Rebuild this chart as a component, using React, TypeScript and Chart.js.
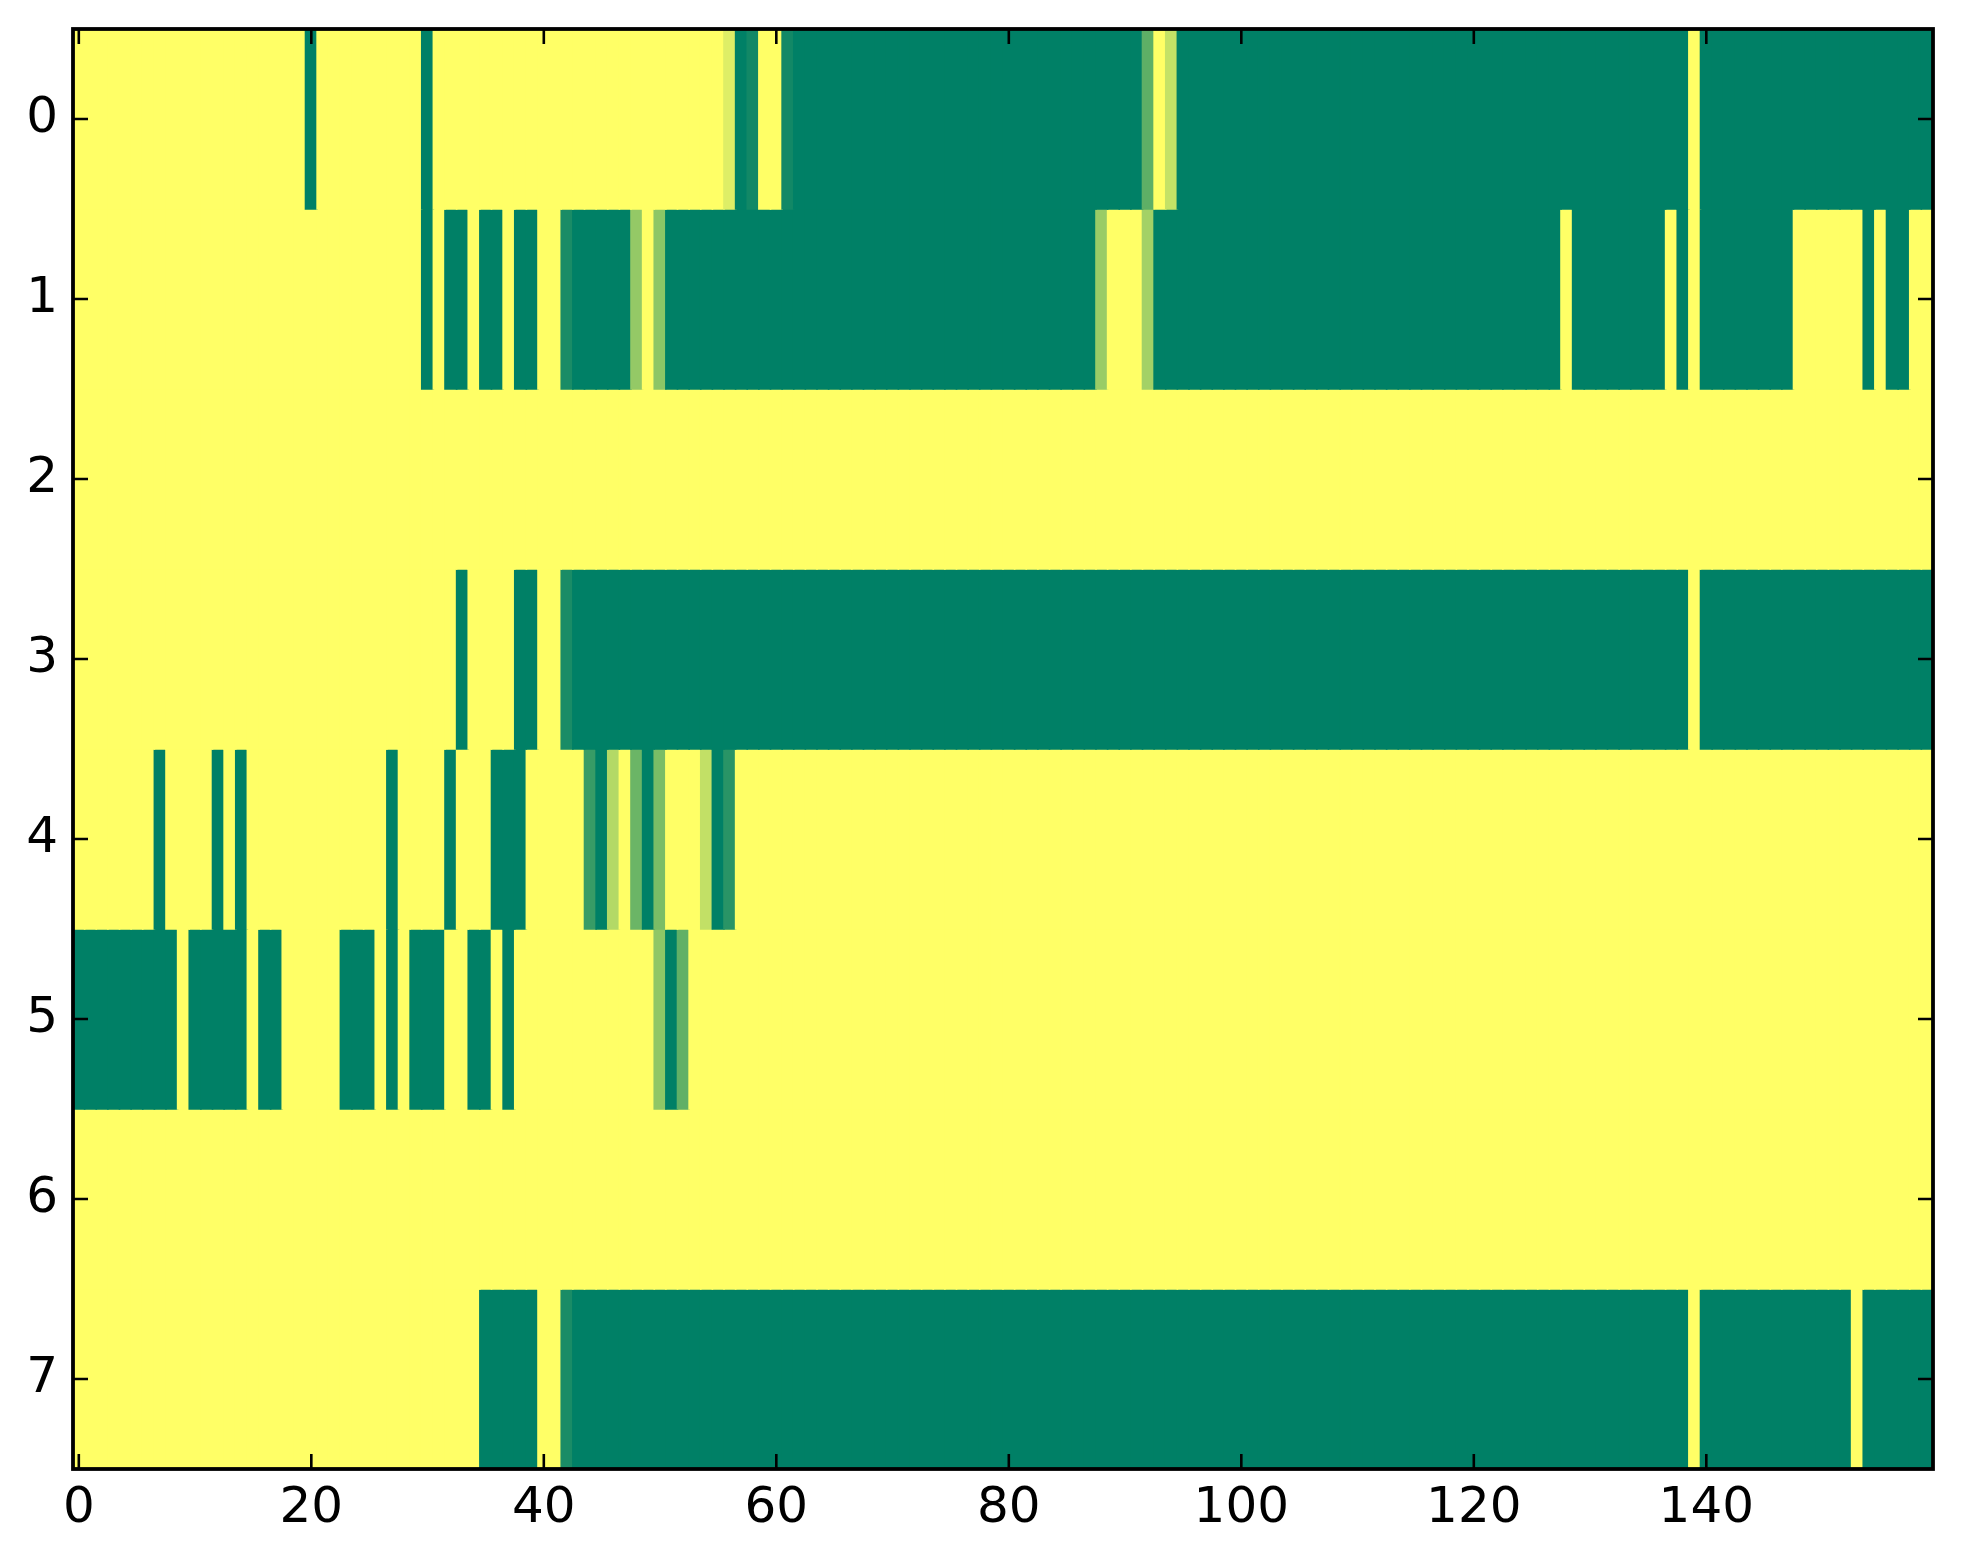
import React, { useEffect, useRef } from "react";
import { Chart, registerables } from "chart.js";

Chart.register(...registerables);

// Column categories (image columns 0..159)
const columns = Array.from({ length: 160 }, (_, i) => String(i));
const xTickValues = [0, 20, 40, 60, 80, 100, 120, 140];
const yTickValues = [0, 1, 2, 3, 4, 5, 6, 7];

const row0 = [
  1,1,1,1,1,1,1,1,1,1, 1,1,1,1,1,1,1,1,1,1,
  0,1,1,1,1,1,1,1,1,1, 0,1,1,1,1,1,1,1,1,1,
  1,1,1,1,1,1,1,1,1,1, 1,1,1,1,1,1,0.87,0,0.07,1,
  1,0.07,0,0,0,0,0,0,0,0, 0,0,0,0,0,0,0,0,0,0,
  0,0,0,0,0,0,0,0,0,0, 0,0,0.37,1,0.77,0,0,0,0,0,
  0,0,0,0,0,0,0,0,0,0, 0,0,0,0,0,0,0,0,0,0,
  0,0,0,0,0,0,0,0,0,0, 0,0,0,0,0,0,0,0,0,1,
  0,0,0,0,0,0,0,0,0,0, 0,0,0,0,0,0,0,0,0,0,
];

const row1 = [
  1,1,1,1,1,1,1,1,1,1, 1,1,1,1,1,1,1,1,1,1,
  1,1,1,1,1,1,1,1,1,1, 0,1,0,0,1,0,0,1,0,0,
  1,1,0.1,0,0,0,0,0,0.58,1, 0.55,0,0,0,0,0,0,0,0,0,
  0,0,0,0,0,0,0,0,0,0, 0,0,0,0,0,0,0,0,0,0,
  0,0,0,0,0,0,0,0,0.6,1, 1,1,0.64,0,0,0,0,0,0,0,
  0,0,0,0,0,0,0,0,0,0, 0,0,0,0,0,0,0,0,0,0,
  0,0,0,0,0,0,0,0,1,0, 0,0,0,0,0,0,0,1,0,1,
  0,0,0,0,0,0,0,0,1,1, 1,1,1,1,0,1,0,0,1,1,
];

const row2 = [
  1,1,1,1,1,1,1,1,1,1, 1,1,1,1,1,1,1,1,1,1,
  1,1,1,1,1,1,1,1,1,1, 1,1,1,1,1,1,1,1,1,1,
  1,1,1,1,1,1,1,1,1,1, 1,1,1,1,1,1,1,1,1,1,
  1,1,1,1,1,1,1,1,1,1, 1,1,1,1,1,1,1,1,1,1,
  1,1,1,1,1,1,1,1,1,1, 1,1,1,1,1,1,1,1,1,1,
  1,1,1,1,1,1,1,1,1,1, 1,1,1,1,1,1,1,1,1,1,
  1,1,1,1,1,1,1,1,1,1, 1,1,1,1,1,1,1,1,1,1,
  1,1,1,1,1,1,1,1,1,1, 1,1,1,1,1,1,1,1,1,1,
];

const row3 = [
  1,1,1,1,1,1,1,1,1,1, 1,1,1,1,1,1,1,1,1,1,
  1,1,1,1,1,1,1,1,1,1, 1,1,1,0,1,1,1,1,0,0,
  1,1,0.1,0,0,0,0,0,0,0, 0,0,0,0,0,0,0,0,0,0,
  0,0,0,0,0,0,0,0,0,0, 0,0,0,0,0,0,0,0,0,0,
  0,0,0,0,0,0,0,0,0,0, 0,0,0,0,0,0,0,0,0,0,
  0,0,0,0,0,0,0,0,0,0, 0,0,0,0,0,0,0,0,0,0,
  0,0,0,0,0,0,0,0,0,0, 0,0,0,0,0,0,0,0,0,1,
  0,0,0,0,0,0,0,0,0,0, 0,0,0,0,0,0,0,0,0,0,
];

const row4 = [
  1,1,1,1,1,1,1,0,1,1, 1,1,0,1,0,1,1,1,1,1,
  1,1,1,1,1,1,1,0,1,1, 1,1,0,1,1,1,0,0,0,1,
  1,1,1,1,0.22,0,0.7,1,0.42,0, 0.48,1,1,1,0.76,0,0.16,1,1,1,
  1,1,1,1,1,1,1,1,1,1, 1,1,1,1,1,1,1,1,1,1,
  1,1,1,1,1,1,1,1,1,1, 1,1,1,1,1,1,1,1,1,1,
  1,1,1,1,1,1,1,1,1,1, 1,1,1,1,1,1,1,1,1,1,
  1,1,1,1,1,1,1,1,1,1, 1,1,1,1,1,1,1,1,1,1,
  1,1,1,1,1,1,1,1,1,1, 1,1,1,1,1,1,1,1,1,1,
];

const row5 = [
  0,0,0,0,0,0,0,0,0,1, 0,0,0,0,0,1,0,0,1,1,
  1,1,1,0,0,0,1,0,1,0, 0,0,1,1,0,0,1,0,1,1,
  1,1,1,1,1,1,1,1,1,1, 0.56,0,0.38,1,1,1,1,1,1,1,
  1,1,1,1,1,1,1,1,1,1, 1,1,1,1,1,1,1,1,1,1,
  1,1,1,1,1,1,1,1,1,1, 1,1,1,1,1,1,1,1,1,1,
  1,1,1,1,1,1,1,1,1,1, 1,1,1,1,1,1,1,1,1,1,
  1,1,1,1,1,1,1,1,1,1, 1,1,1,1,1,1,1,1,1,1,
  1,1,1,1,1,1,1,1,1,1, 1,1,1,1,1,1,1,1,1,1,
];

const row6 = [
  1,1,1,1,1,1,1,1,1,1, 1,1,1,1,1,1,1,1,1,1,
  1,1,1,1,1,1,1,1,1,1, 1,1,1,1,1,1,1,1,1,1,
  1,1,1,1,1,1,1,1,1,1, 1,1,1,1,1,1,1,1,1,1,
  1,1,1,1,1,1,1,1,1,1, 1,1,1,1,1,1,1,1,1,1,
  1,1,1,1,1,1,1,1,1,1, 1,1,1,1,1,1,1,1,1,1,
  1,1,1,1,1,1,1,1,1,1, 1,1,1,1,1,1,1,1,1,1,
  1,1,1,1,1,1,1,1,1,1, 1,1,1,1,1,1,1,1,1,1,
  1,1,1,1,1,1,1,1,1,1, 1,1,1,1,1,1,1,1,1,1,
];

const row7 = [
  1,1,1,1,1,1,1,1,1,1, 1,1,1,1,1,1,1,1,1,1,
  1,1,1,1,1,1,1,1,1,1, 1,1,1,1,1,0,0,0,0,0,
  1,1,0.1,0,0,0,0,0,0,0, 0,0,0,0,0,0,0,0,0,0,
  0,0,0,0,0,0,0,0,0,0, 0,0,0,0,0,0,0,0,0,0,
  0,0,0,0,0,0,0,0,0,0, 0,0,0,0,0,0,0,0,0,0,
  0,0,0,0,0,0,0,0,0,0, 0,0,0,0,0,0,0,0,0,0,
  0,0,0,0,0,0,0,0,0,0, 0,0,0,0,0,0,0,0,0,1,
  0,0,0,0,0,0,0,0,0,0, 0,0,0,1,0,0,0,0,0,0,
];

const rows = [row0, row1, row2, row3, row4, row5, row6, row7];

// matplotlib "summer" colormap
function summer(v: number): string {
  const r = Math.round(255 * v);
  const g = Math.round(255 * (0.5 + 0.5 * v));
  return `rgb(${r},${g},102)`;
}

const FONT = { family: "'DejaVu Sans', sans-serif", size: 50 };

const framePlugin = {
  id: "frame",
  afterDatasetsDraw(chart: any) {
    const { ctx, chartArea: a, scales } = chart;
    const x = scales.x;
    const y = scales.y;
    const tl = 15;
    ctx.save();
    ctx.strokeStyle = "#000";
    ctx.lineWidth = 2.6;
    ctx.beginPath();
    xTickValues.forEach((v) => {
      const px = x.getPixelForValue(v);
      ctx.moveTo(px, a.bottom);
      ctx.lineTo(px, a.bottom - tl);
      ctx.moveTo(px, a.top);
      ctx.lineTo(px, a.top + tl);
    });
    yTickValues.forEach((v) => {
      const py = y.getPixelForValue(v);
      ctx.moveTo(a.left, py);
      ctx.lineTo(a.left + tl, py);
      ctx.moveTo(a.right, py);
      ctx.lineTo(a.right - tl, py);
    });
    ctx.stroke();
    ctx.lineWidth = 3.8;
    ctx.strokeRect(a.left, a.top, a.right - a.left, a.bottom - a.top);
    ctx.restore();
  },
};

export default function App() {
  const ref = useRef<HTMLCanvasElement | null>(null);

  useEffect(() => {
    if (!ref.current) return;
    const datasets = rows.map((vals, r) => ({
      label: `row ${r}`,
      data: vals.map(() => [r - 0.5, r + 0.5]),
      backgroundColor: vals.map(summer),
      borderWidth: 0,
      barPercentage: 1,
      categoryPercentage: 1,
      grouped: false,
      inflateAmount: 0.8,
    }));

    const chart = new Chart(ref.current, {
      type: "bar",
      data: { labels: columns, datasets: datasets as any },
      plugins: [framePlugin],
      options: {
        responsive: false,
        animation: false,
        devicePixelRatio: 1,
        events: [],
        layout: { padding: { left: 0, right: 30, top: 29, bottom: 35 } },
        plugins: {
          legend: { display: false },
          tooltip: { enabled: false },
          title: { display: false },
        },
        scales: {
          x: {
            type: "category",
            offset: true,
            grid: { display: false },
            border: { display: false },
            afterFit: (s: any) => {
              s.height = 60;
              s.paddingLeft = 0;
              s.paddingRight = 0;
            },
            ticks: {
              autoSkip: false,
              maxRotation: 0,
              minRotation: 0,
              padding: 2,
              color: "#000",
              font: FONT,
              callback: (_v: any, i: number) =>
                xTickValues.includes(i) ? String(i) : "",
            },
          },
          y: {
            type: "linear",
            min: -0.5,
            max: 7.5,
            reverse: true,
            grid: { display: false },
            border: { display: false },
            afterFit: (s: any) => {
              s.width = 73;
              s.paddingTop = 0;
              s.paddingBottom = 0;
            },
            afterBuildTicks: (s: any) => {
              s.ticks = yTickValues.map((v) => ({ value: v }));
            },
            ticks: {
              padding: 7,
              color: "#000",
              font: FONT,
              callback: (v: any) => String(v),
            },
          },
        },
      } as any,
    });
    return () => chart.destroy();
  }, []);

  return (
    <div style={{ position: "absolute", left: 0, top: 0, width: 1963, height: 1564, background: "#fff" }}>
      <canvas ref={ref} width={1963} height={1564} style={{ display: "block", width: 1963, height: 1564 }} />
    </div>
  );
}
